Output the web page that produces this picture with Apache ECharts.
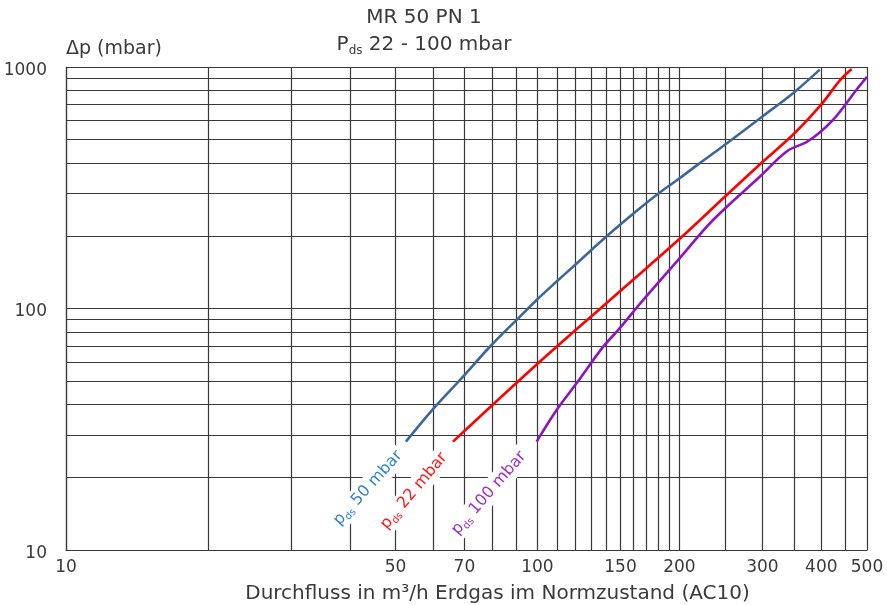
<!DOCTYPE html>
<html>
<head>
<meta charset="utf-8">
<script src="https://cdn.jsdelivr.net/npm/echarts@6/dist/echarts.min.js"></script>
<style>html,body{margin:0;padding:0;background:#fff}#c{width:887px;height:605px}</style>
</head>
<body>
<div id="c"></div>
<script>
// Flow (m3/h) and pressure drop (mbar)
var blueX = [52.6, 60.1, 69.0, 79.9, 91.8, 99.6, 109.8, 119, 140.6, 164.9, 180, 200.5, 221, 241.7, 300, 350, 397];
var blueY = [28.1, 38.4, 51.4, 70.6, 92.6, 108.5, 129.3, 149, 200, 260, 298, 347, 400, 454, 624, 785, 975];
var redX = [66.2, 100.3, 140, 170, 203, 250, 300, 350, 400, 438, 464];
var redY = [28.1, 59.3, 105.2, 146.5, 199, 291, 404, 529, 700, 880, 981];
var purpleX = [99.6, 109.8, 121, 137.9, 148.4, 168, 199.5, 236, 296.5, 337.7, 372, 397, 424, 451, 475, 500];
var purpleY = [28.1, 38.0, 49.0, 69.5, 81.5, 109, 160, 233, 352, 447, 489, 535, 605, 703, 805, 910];

var xLabelValues = [10, 50, 70, 100, 150, 200, 300, 400, 500];
var xGridValues = [10, 20, 30, 40, 50, 60, 70, 80, 90, 100, 110, 120, 130, 140, 150, 160, 170, 180, 190, 200, 250, 300, 350, 400, 450, 500];
var yLabelValues = [10, 100, 1000];
var yGridValues = [10, 20, 30, 40, 50, 60, 70, 80, 90, 100, 200, 300, 400, 500, 600, 700, 800, 900, 1000];

function pairs(xs, ys) { return xs.map(function (x, i) { return [x, ys[i]]; }); }

var FONT = 'DejaVu Sans';
var TXT = '#3a3a3a';
var GRID = '#383838';

function curveLabel(text, color) {
  return {
    text: '{a|p}{b|ds}{a| ' + text + '}', align: 'center', verticalAlign: 'middle', backgroundColor: '#fff', padding: [1, 3],
    rich: {
      a: { fontFamily: FONT, fontSize: 16, fill: color, lineHeight: 20 },
      b: { fontFamily: FONT, fontSize: 10, fill: color, lineHeight: 20, verticalAlign: 'bottom' }
    }
  };
}

var chart = echarts.init(document.getElementById('c'));
chart.setOption({
  animation: false,
  grid: { left: 66, right: 20, top: 67, bottom: 55, containLabel: false, outerBoundsMode: 'none' },
  xAxis: {
    type: 'log', logBase: 10, min: 10, max: 500,
    name: 'Durchfluss in m³/h Erdgas im Normzustand (AC10)',
    nameLocation: 'middle', nameGap: 34,
    nameTextStyle: { fontFamily: FONT, fontSize: 20, color: TXT, padding: [0, 0, 0, 62] },
    axisLine: { show: true, lineStyle: { color: GRID, width: 1.2 } },
    axisTick: { show: false, customValues: xGridValues },
    axisLabel: { customValues: xLabelValues, fontFamily: FONT, fontSize: 17, color: TXT, margin: 9, showMinLabel: true, showMaxLabel: true,
      formatter: function (v) { return String(v); } },
    splitLine: { show: true, lineStyle: { color: GRID, width: 1.2 } },
    minorTick: { show: false }, minorSplitLine: { show: false }
  },
  yAxis: {
    type: 'log', logBase: 10, min: 10, max: 1000,
    name: 'Δp (mbar)', nameLocation: 'end', nameGap: 8,
    nameTextStyle: { fontFamily: FONT, fontSize: 19, color: TXT, align: 'left', verticalAlign: 'bottom' },
    axisLine: { show: true, lineStyle: { color: GRID, width: 1.2 } },
    axisTick: { show: false, customValues: yGridValues },
    axisLabel: { customValues: yLabelValues, color: TXT, margin: 19,
      formatter: function (v) { return '{v|' + v + '}'; },
      rich: { v: { fontFamily: FONT, fontSize: 17, color: TXT, padding: [7, 0, 0, 0] } } },
    splitLine: { show: true, lineStyle: { color: GRID, width: 1.2 } }
  },
  graphic: [
    { type: 'text', x: 424, y: 18, style: { text: 'MR 50 PN 1', fontFamily: FONT, fontSize: 20, fill: TXT, align: 'center', verticalAlign: 'middle' } },
    { type: 'text', x: 424, y: 45, style: {
        text: '{a|P}{b|ds}{a| 22 - 100 mbar}', align: 'center', verticalAlign: 'middle',
        rich: { a: { fontFamily: FONT, fontSize: 20, fill: TXT, lineHeight: 24 }, b: { fontFamily: FONT, fontSize: 12, fill: TXT, lineHeight: 24, verticalAlign: 'bottom' } } } },
    { type: 'text', x: 368, y: 488, rotation: 48 * Math.PI / 180, z: 100, style: curveLabel('50 mbar', '#2f80d4') },
    { type: 'text', x: 414, y: 491, rotation: 50 * Math.PI / 180, z: 100, style: curveLabel('22 mbar', '#ff1a1a') },
    { type: 'text', x: 489, y: 493, rotation: 49 * Math.PI / 180, z: 100, style: curveLabel('100 mbar', '#9b2fc8') }
  ],
  series: [
    { type: 'line', name: 'pds 50 mbar', data: pairs(blueX, blueY), smooth: 0.35, showSymbol: false, lineStyle: { color: '#3d6798', width: 2.6 }, z: 5 },
    { type: 'line', name: 'pds 22 mbar', data: pairs(redX, redY), smooth: 0.35, showSymbol: false, lineStyle: { color: '#ff0000', width: 2.6 }, z: 5 },
    { type: 'line', name: 'pds 100 mbar', data: pairs(purpleX, purpleY), smooth: 0.35, showSymbol: false, lineStyle: { color: '#8a17be', width: 2.6 }, z: 5 }
  ]
});
</script>
</body>
</html>
